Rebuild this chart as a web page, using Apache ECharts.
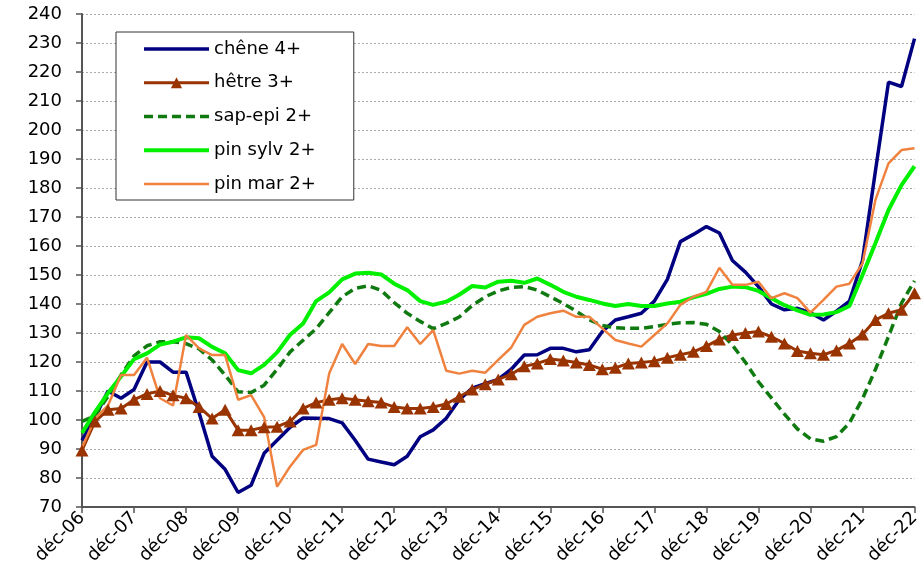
<!DOCTYPE html>
<html>
<head>
<meta charset="utf-8">
<script src="https://cdn.jsdelivr.net/npm/echarts@6/dist/echarts.min.js"></script>
<style>
html,body{margin:0;padding:0;background:#fff;}
#chart{width:923px;height:577px;}
</style>
</head>
<body>
<div id="chart"></div>
<script>
var categories = [
 'déc-06','mars-07','juin-07','sept-07','déc-07','mars-08','juin-08','sept-08',
 'déc-08','mars-09','juin-09','sept-09','déc-09','mars-10','juin-10','sept-10',
 'déc-10','mars-11','juin-11','sept-11','déc-11','mars-12','juin-12','sept-12',
 'déc-12','mars-13','juin-13','sept-13','déc-13','mars-14','juin-14','sept-14',
 'déc-14','mars-15','juin-15','sept-15','déc-15','mars-16','juin-16','sept-16',
 'déc-16','mars-17','juin-17','sept-17','déc-17','mars-18','juin-18','sept-18',
 'déc-18','mars-19','juin-19','sept-19','déc-19','mars-20','juin-20','sept-20',
 'déc-20','mars-21','juin-21','sept-21','déc-21','mars-22','juin-22','sept-22',
 'déc-22'
];

var seriesNames = ['chêne 4+', 'hêtre 3+', 'sap-epi 2+', 'pin sylv 2+', 'pin mar 2+'];

var chene = [93, 101, 110, 107.5, 110.5, 120, 120, 116.5, 116.5, 102.5, 87.5, 83, 75, 77.5, 88.5, 93, 97.5,
 100.7, 100.6, 100.5, 99, 93, 86.5, 85.5, 84.6, 87.5, 94.2, 96.6, 100.6, 107, 111, 112.5, 114,
 117.5, 122.4, 122.5, 124.7, 124.7, 123.5, 124.2, 130.5, 134.5, 135.6, 136.8, 141, 148.5, 161.5, 164, 166.7, 164.5,
 155, 151, 146, 140, 138, 138.5, 137, 134.5, 137.5, 141, 155, 186, 216.5, 215, 231.5];

var hetre = [89.5, 99.5, 103.5, 104, 107, 109, 110, 108.5, 107.5, 104.5,
 100.5, 103.5, 96.5, 96.5, 97.5, 97.7, 99.5, 104, 106, 107,
 107.5, 107, 106.5, 106, 104.5, 104, 104, 104.5, 105.5, 108,
 110.5, 112.3, 114, 115.8, 118.5, 119.5, 121, 120.5, 119.8, 119,
 117.5, 118, 119.5, 119.8, 120.3, 121.5, 122.5, 123.5, 125.5, 127.8,
 129.3, 130, 130.5, 128.7, 126.4, 123.8, 123, 122.5, 124, 126.4,
 129.5, 134.5, 136.8, 138, 143.7];

var sapEpi = [99.5, 101.4, 108.2, 115.5, 122.1, 125.6, 127, 127, 126.3, 124.5, 120.7, 115.5, 109.7, 109.5, 112, 117.5, 123.5,
 127.5, 131.5, 137, 142.5, 145.4, 146.3, 144.7, 140.5, 136.8, 134, 131.5, 133.3, 135.5, 139.5, 142.5, 144.5, 145.7,
 146, 144.8, 142.5, 140.2, 137.5, 134.5, 132.6, 131.8, 131.6, 131.6, 132.2, 133, 133.5, 133.6, 133, 130.5,
 125.8, 119.9, 113.2, 107.6, 102, 96.9, 93.5, 92.7, 94.3, 99, 107.3, 117.5, 128.8, 140.3, 148];

var pinSylv = [95.5, 102.7, 109.3, 115, 121, 123, 126, 127, 128.5, 128.2, 125.2, 123, 117.2, 116.1, 119, 123.3, 129.4,
 133.3, 141, 144, 148.5, 150.5, 150.8, 150.2, 147, 144.8, 141, 139.7, 140.8, 143.2, 146.2, 145.7, 147.7, 148,
 147.3, 148.8, 146.6, 144.2, 142.5, 141.4, 140.2, 139.3, 140, 139.3, 139.3, 140.2, 140.8, 142.3, 143.5, 145.2,
 146, 145.8, 144.5, 142, 139.6, 137.8, 136.3, 136.4, 137.2, 139.3, 150, 161, 172.4, 181, 187.5];

var pinMar = [90.5, 100.5, 105, 115.5, 115.5, 121.5, 107.5, 105, 129.3, 124.7,
 122.4, 122.4, 107, 108.6, 101, 77, 84, 89.7, 91.4, 116,
 126.2, 119.3, 126.2, 125.5, 125.5, 132, 126.2, 131, 117, 116,
 117, 116.3, 120.7, 125, 132.8, 135.6, 136.8, 137.7, 135.6, 135.6,
 131.6, 127.6, 126.4, 125.3, 129.3, 133.3, 139.7, 142.5, 144.2, 152.5,
 146.6, 146.6, 147.7, 142, 143.7, 142, 137, 141.4, 146, 147,
 154, 176, 188.5, 193.1, 193.7];

var yMin = 70, yMax = 240, yStep = 10;

var FONT = 'DejaVu Sans';
var chart = echarts.init(document.getElementById('chart'), null, {renderer: 'canvas'});

function everyYear(i) { return i % 4 === 0; }

var legendData = seriesNames.map(function (n, k) {
  return k === 1 ? {name: n} : {name: n, itemStyle: {opacity: 0}};
});

chart.setOption({
  animation: false,
  backgroundColor: '#ffffff',
  grid: {left: 82, right: 7, top: 14, bottom: 70, containLabel: false},
  legend: {
    orient: 'vertical',
    left: 116, top: 32,
    itemWidth: 65, itemHeight: 14, itemGap: 13.75,
    padding: [7, 38, 6, 26],
    borderColor: '#333', borderWidth: 1,
    backgroundColor: '#fff',
    lineStyle: {width: 'inherit'},
    textStyle: {fontFamily: FONT, fontSize: 18, color: '#000', lineHeight: 20},
    data: legendData
  },
  xAxis: {
    type: 'category',
    data: categories,
    boundaryGap: false,
    axisLine: {lineStyle: {color: '#555', width: 2}},
    axisTick: {show: true, interval: everyYear, length: 6, lineStyle: {color: '#555', width: 1.5}},
    axisLabel: {interval: everyYear, rotate: 45, margin: 8, fontFamily: FONT, fontSize: 18, color: '#000'},
    splitLine: {show: false}
  },
  yAxis: {
    type: 'value',
    min: yMin, max: yMax, interval: yStep,
    axisLine: {show: true, lineStyle: {color: '#555', width: 2}},
    axisTick: {show: true, length: 6, lineStyle: {color: '#555', width: 1.5}},
    axisLabel: {margin: 20, fontFamily: FONT, fontSize: 18, color: '#000'},
    splitLine: {show: true, lineStyle: {color: '#aaa', width: 1, type: [2, 2]}}
  },
  series: [
    {name: seriesNames[0], type: 'line', data: chene, symbol: 'none',
     lineStyle: {color: '#000080', width: 3.5}, itemStyle: {color: '#000080'}},
    {name: seriesNames[1], type: 'line', data: hetre, symbol: 'triangle', symbolSize: [13, 12],
     showAllSymbol: true,
     lineStyle: {color: '#993300', width: 3}, itemStyle: {color: '#993300'}},
    {name: seriesNames[2], type: 'line', data: sapEpi, symbol: 'none',
     lineStyle: {color: '#0f7a0f', width: 3.5, type: [9, 5]}, itemStyle: {color: '#0f7a0f'}},
    {name: seriesNames[3], type: 'line', data: pinSylv, symbol: 'none',
     lineStyle: {color: '#00f000', width: 4}, itemStyle: {color: '#00f000'}},
    {name: seriesNames[4], type: 'line', data: pinMar, symbol: 'none',
     lineStyle: {color: '#f0823f', width: 2.5}, itemStyle: {color: '#f0823f'}}
  ]
});
</script>
</body>
</html>
